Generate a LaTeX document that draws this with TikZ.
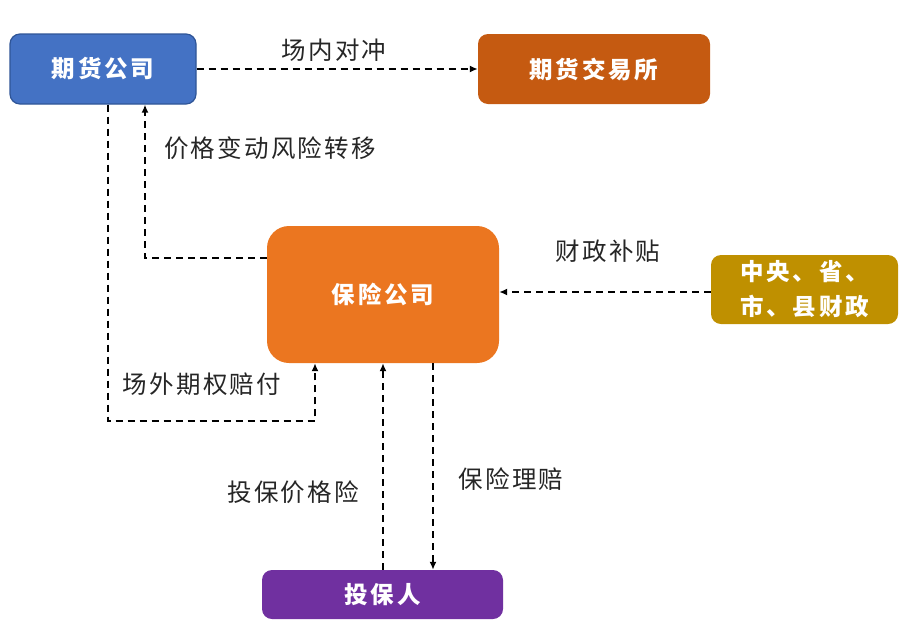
\documentclass[tikz,border=0pt]{standalone}
\usepackage{fontspec}
\setmainfont{Noto Sans CJK SC}[LetterSpace=9]
\newfontfamily\boxfont{Noto Sans CJK SC}[LetterSpace=12]
\usetikzlibrary{arrows.meta}
\definecolor{cblue}{HTML}{4472C4}
\definecolor{cbluedark}{HTML}{2F5597}
\definecolor{cdorange}{HTML}{C55A11}
\definecolor{corange}{HTML}{EB7620}
\definecolor{cgold}{HTML}{BF9000}
\definecolor{cpurple}{HTML}{7030A0}
\tikzset{
  boxnode/.style={inner sep=0pt, text=white, font=\boxfont\fontsize{23.5}{28}\selectfont\bfseries, align=center},
  conn/.style={draw=black, line width=2pt, dash pattern=on 7pt off 5pt, -{Latex[length=8pt,width=7pt]}},
  lbl/.style={font=\fontsize{24.5}{28}\selectfont, text=black!85, inner sep=0pt}
}
\begin{document}
\begin{tikzpicture}[x=1pt,y=-1pt]
\useasboundingbox (0,0) rectangle (910,630);
% boxes
\node[boxnode, draw=cbluedark, line width=1.2pt, fill=cblue, rounded corners=10pt, minimum width=186pt, minimum height=70pt] (qh) at (103,69) {期货公司};
\node[boxnode, fill=cdorange, rounded corners=10pt, minimum width=232pt, minimum height=70pt] (jys) at (594,69) {期货交易所};
\node[boxnode, fill=corange, rounded corners=22pt, minimum width=232pt, minimum height=137pt] (bx) at (383,294.5) {保险公司};
\node[boxnode, fill=cgold, rounded corners=10pt, minimum width=187pt, minimum height=69pt, font=\boxfont\fontsize{23.5}{35}\selectfont\bfseries] (cz) at (804.5,289.5) {中央、省、\\市、县财政};
\node[boxnode, fill=cpurple, rounded corners=10pt, minimum width=241pt, minimum height=49pt] (tbr) at (382.5,594.5) {投保人};
% coordinates
\coordinate (c1) at (145,258);
\coordinate (c2) at (108,421);
\coordinate (c3) at (315,421);
% connectors
\draw[conn] (qh.east) -- (jys.west);
\draw[conn] (bx.west |- c1) -- (c1) -- (c1 |- qh.south);
\draw[conn] (c2 |- qh.south) -- (c2) -- (c3) -- (c3 |- bx.south);
\draw[conn] (cz.west |- 0,292) -- (bx.east |- 0,292);
\draw[conn] (tbr.north -| 383,0) -- (bx.south -| 383,0);
\draw[conn] (bx.south -| 433,0) -- (tbr.north -| 433,0);
% labels
\node[lbl] (l1) at (334,50) {场内对冲};
\node[lbl] (l2) at (270,148) {价格变动风险转移};
\node[lbl] (l3) at (202,384) {场外期权赔付};
\node[lbl] (l4) at (608,251) {财政补贴};
\node[lbl] (l5) at (293,492) {投保价格险};
\node[lbl] (l6) at (511,479) {保险理赔};
\end{tikzpicture}
\end{document}
